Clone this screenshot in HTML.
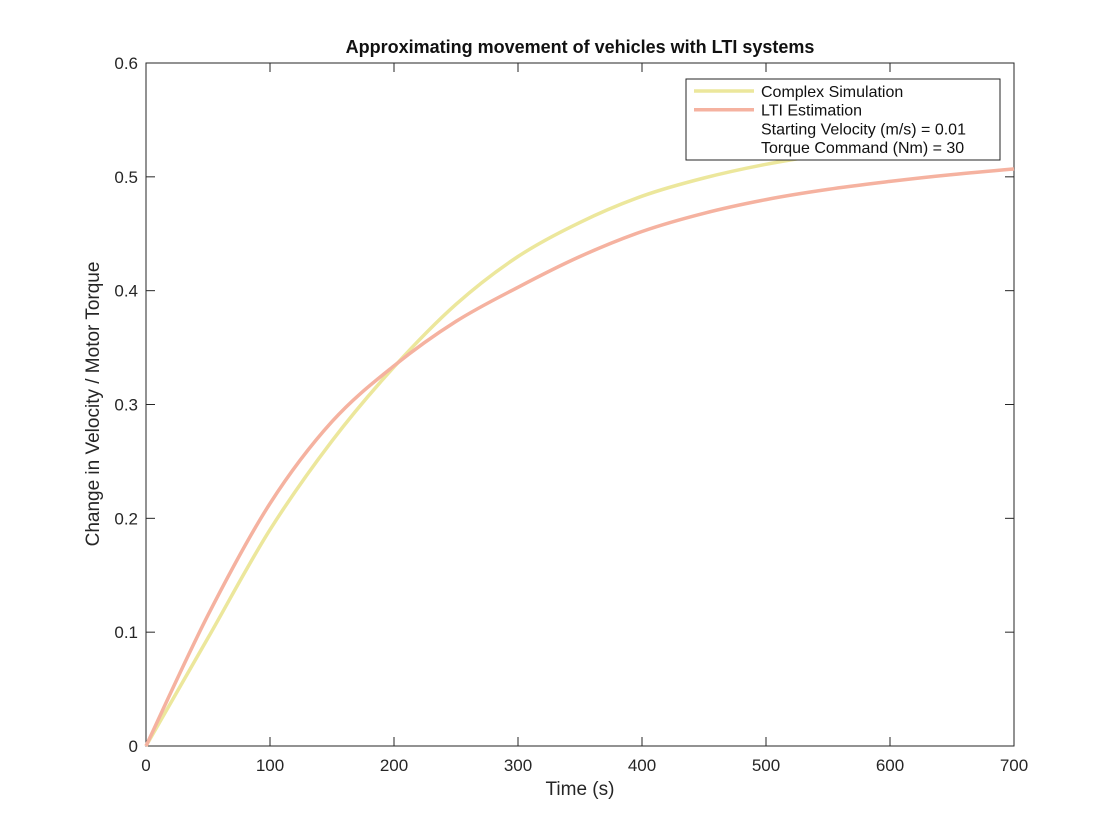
<!DOCTYPE html>
<html><head><meta charset="utf-8"><style>
body{margin:0;background:#fff}
svg{display:block;font-family:"Liberation Sans",Arial,sans-serif}
</style></head><body>
<svg id="chart" width="1120" height="840">
<rect width="1120" height="840" fill="#fff"/>
<g id="plot"></g>
</svg>
<script>
const complexTimes=[0,50,100,150,200,250,300,350,400,450,500,550,600,650];
const complexVals=[0,0.095,0.19,0.268,0.333,0.388,0.43,0.46,0.483,0.499,0.511,0.52,0.527,0.532];
const ltiTimes=[0,50,100,150,200,250,300,350,400,450,500,550,600,650,700];
const ltiVals=[0,0.115,0.213,0.285,0.334,0.373,0.403,0.43,0.452,0.468,0.48,0.489,0.496,0.502,0.507];
const xTicks=[0,100,200,300,400,500,600,700];
const yTicks=[0,0.1,0.2,0.3,0.4,0.5,0.6];
const yTickLabels=["0","0.1","0.2","0.3","0.4","0.5","0.6"];
const L=146,R=1014,T=63,B=746;
const xs=v=>L+(v/700)*(R-L), ys=v=>B-(v/0.6)*(B-T);
const ns="http://www.w3.org/2000/svg", g=document.getElementById('plot');
function mk(tag,attrs,txt){const e=document.createElementNS(ns,tag);for(const k in attrs)e.setAttribute(k,attrs[k]);if(txt!=null)e.textContent=txt;g.appendChild(e);return e;}
const tc="#262626";
let e=mk('rect',{x:L,y:T,width:R-L,height:B-T,fill:'#fff',stroke:tc,'stroke-width':1});


xTicks.forEach(v=>{const x=xs(v);
mk('line',{x1:x,x2:x,y1:B,y2:B-9,stroke:tc});mk('line',{x1:x,x2:x,y1:T,y2:T+9,stroke:tc});
const t=mk('text',{x:x,y:B+25,'text-anchor':'middle','font-size':17,fill:tc},String(v));

});
yTicks.forEach((v,i)=>{const y=ys(v);
mk('line',{x1:L,x2:L+9,y1:y,y2:y,stroke:tc});mk('line',{x1:R,x2:R-9,y1:y,y2:y,stroke:tc});
const t=mk('text',{x:L-8,y:y+6,'text-anchor':'end','font-size':17,fill:tc},yTickLabels[i]);

});
function path(times,vals,color,name){
const P=vals.map((v,i)=>[xs(times[i]),ys(v)]);
let d='M'+P[0][0].toFixed(1)+','+P[0][1].toFixed(1);
for(let i=0;i<P.length-1;i++){const p0=P[Math.max(0,i-1)],p1=P[i],p2=P[i+1],p3=P[Math.min(P.length-1,i+2)];
const c1=[p1[0]+(p2[0]-p0[0])/6,p1[1]+(p2[1]-p0[1])/6],c2=[p2[0]-(p3[0]-p1[0])/6,p2[1]-(p3[1]-p1[1])/6];
d+=' C'+c1.map(n=>n.toFixed(1)).join(',')+' '+c2.map(n=>n.toFixed(1)).join(',')+' '+p2.map(n=>n.toFixed(1)).join(',');}
const p=mk('path',{d:d,fill:'none',stroke:color,'stroke-width':3.5,'stroke-linejoin':'round'});

}
path(complexTimes,complexVals,'#ece79c','complex-simulation-line');
path(ltiTimes,ltiVals,'#f5b2a0','lti-estimation-line');
const lg=mk('rect',{x:686,y:79,width:314,height:81,fill:'#fff',stroke:tc});


const leg=[["Complex Simulation",'#ece79c'],["LTI Estimation",'#f5b2a0'],["Starting Velocity (m/s) = 0.01",null],["Torque Command (Nm) = 30",null]];
leg.forEach((l,i)=>{const y=91+i*18.7;
if(l[1])mk('line',{x1:694,x2:754,y1:y,y2:y,stroke:l[1],'stroke-width':3.5});
const t=mk('text',{x:761,y:y+6,'font-size':16,fill:'#111'},l[0]);

});
let t=mk('text',{x:580,y:53,'text-anchor':'middle','font-size':18,'font-weight':'bold',fill:'#111'},'Approximating movement of vehicles with LTI systems');


t=mk('text',{x:580,y:795,'text-anchor':'middle','font-size':19,fill:tc},'Time (s)');


t=mk('text',{x:99,y:404,'text-anchor':'middle','font-size':19,fill:tc,transform:'rotate(-90 99 404)'},'Change in Velocity / Motor Torque');


</script>
</body></html>
